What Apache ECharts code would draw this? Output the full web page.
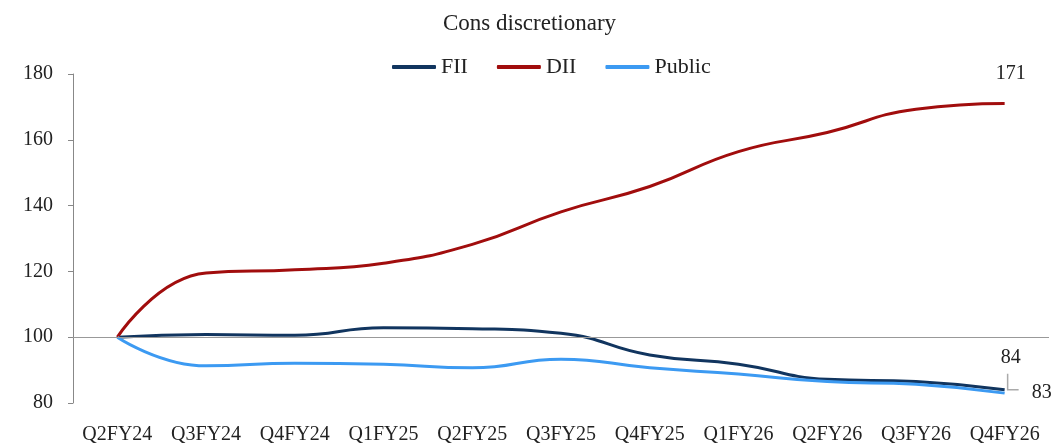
<!DOCTYPE html>
<html>
<head>
<meta charset="utf-8">
<script src="https://cdn.jsdelivr.net/npm/echarts@6/dist/echarts.min.js"></script>
<style>
  html, body { margin: 0; padding: 0; background: #fff; }
  #chart { width: 1059px; height: 448px; }
</style>
</head>
<body>
<div id="chart"></div>
<script>
// quarters on the x axis
var quarters = ['Q2FY24','Q3FY24','Q4FY24','Q1FY25','Q2FY25','Q3FY25','Q4FY25','Q1FY26','Q2FY26','Q3FY26','Q4FY26'];

// indexed holdings (Q2FY24 = 100)
var fii    = [100, 100.8, 100.6, 102.9, 102.6, 101.2, 94.6, 91.8, 87.2, 86.5, 84];
var dii    = [100, 119.5, 120.5, 122.5, 128.2, 138.1, 145.8, 156.4, 162.2, 169.3, 171];
var publicH = [100, 91.3, 92.1, 91.8, 90.7, 93.3, 90.7, 88.8, 86.5, 85.7, 83];

var yTicks = { min: 80, max: 180, step: 20 };
var baseLine = 100;

var FONT = '"Liberation Serif", "DejaVu Serif", serif';
var TXT = '#222';

var chart = echarts.init(document.getElementById('chart'));

function endLabel(offset){
  return {
    show: true,
    formatter: function(p){ return Math.round(p.value); },
    offset: offset,
    fontFamily: FONT, fontSize: 20, color: TXT
  };
}

var option = {
  animation: false,
  backgroundColor: '#fff',
  title: {
    text: 'Cons discretionary',
    left: 'center',
    top: 7,
    textStyle: { fontFamily: FONT, fontSize: 23, fontWeight: 'normal', color: TXT }
  },
  legend: {
    top: 51,
    left: 387,
    itemWidth: 44,
    itemHeight: 4,
    itemGap: 29,
    icon: 'roundRect',
    textStyle: { fontFamily: FONT, fontSize: 22, color: TXT },
    data: ['FII', 'DII', 'Public']
  },
  grid: { left: 73, right: 10, top: 74, bottom: 45 },
  xAxis: {
    type: 'category',
    data: quarters,
    boundaryGap: true,
    axisLine: { show: false },
    axisTick: { show: false },
    axisLabel: { margin: 22, fontFamily: FONT, fontSize: 20, color: TXT, interval: 0 }
  },
  yAxis: {
    type: 'value',
    min: yTicks.min,
    max: yTicks.max,
    interval: yTicks.step,
    axisLine: { show: true, lineStyle: { color: '#888', width: 1 } },
    axisTick: { show: true, inside: false, length: 5, lineStyle: { color: '#888' } },
    axisLabel: { margin: 20, fontFamily: FONT, fontSize: 20, color: TXT },
    splitLine: { show: false }
  },
  series: [
    {
      name: 'FII',
      type: 'line',
      smooth: true,
      showSymbol: false,
      z: 3,
      lineStyle: { width: 3, color: '#11355f' },
      itemStyle: { color: '#11355f' },
      endLabel: endLabel([-12, -32]),
      data: fii,
      markLine: {
        silent: true,
        symbol: 'none',
        label: { show: false },
        lineStyle: { color: '#999', width: 1, type: 'solid' },
        data: [{ yAxis: baseLine }]
      }
    },
    {
      name: 'DII',
      type: 'line',
      smooth: true,
      showSymbol: false,
      z: 3,
      lineStyle: { width: 3, color: '#a10d0d' },
      itemStyle: { color: '#a10d0d' },
      endLabel: endLabel([-17, -30]),
      data: dii
    },
    {
      name: 'Public',
      type: 'line',
      smooth: true,
      showSymbol: false,
      z: 3,
      lineStyle: { width: 3, color: '#3c9af2' },
      itemStyle: { color: '#3c9af2' },
      endLabel: endLabel([19, 0]),
      data: publicH
    }
  ]
};

chart.setOption(option);

// small grey leader line between the two crowded end labels
var last = quarters.length - 1;
var pFii = chart.convertToPixel({ seriesIndex: 0 }, [last, fii[last]]);
chart.setOption({
  graphic: [
    {
      type: 'polyline',
      silent: true,
      shape: { points: [[pFii[0] + 3, pFii[1] - 16], [pFii[0] + 3, pFii[1]], [pFii[0] + 14, pFii[1]]] },
      style: { stroke: '#aaa', lineWidth: 1.5, fill: null }
    }
  ]
});
</script>
</body>
</html>
